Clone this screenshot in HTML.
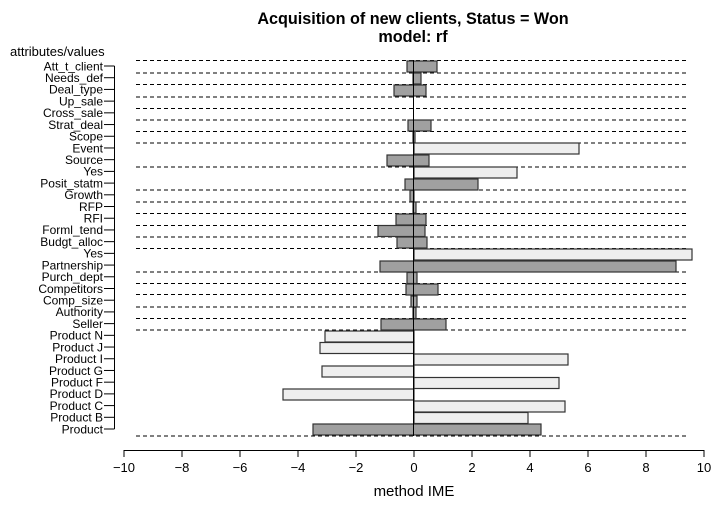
<!DOCTYPE html><html><head><style>body{margin:0;background:#fff}</style></head><body>
<svg width="720" height="503" xmlns="http://www.w3.org/2000/svg" font-family="Liberation Sans, sans-serif">
<text x="413" y="24" font-size="16.2" font-weight="bold" text-anchor="middle">Acquisition of new clients, Status = Won</text>
<text x="413" y="42" font-size="16.2" font-weight="bold" text-anchor="middle">model: rf</text>
<text x="10" y="56" font-size="13">attributes/values</text>
<g stroke="#000" stroke-width="1" stroke-dasharray="4,3">
<line x1="136" x2="688" y1="60.5" y2="60.5"/><line x1="136" x2="688" y1="73" y2="73"/><line x1="136" x2="688" y1="84.5" y2="84.5"/><line x1="136" x2="688" y1="97" y2="97"/><line x1="136" x2="688" y1="108.5" y2="108.5"/><line x1="136" x2="688" y1="120" y2="120"/><line x1="136" x2="688" y1="131.5" y2="131.5"/><line x1="136" x2="688" y1="143" y2="143"/><line x1="136" x2="688" y1="167" y2="167"/><line x1="136" x2="688" y1="190" y2="190"/><line x1="136" x2="688" y1="202" y2="202"/><line x1="136" x2="688" y1="213.5" y2="213.5"/><line x1="136" x2="688" y1="225.5" y2="225.5"/><line x1="136" x2="688" y1="237" y2="237"/><line x1="136" x2="688" y1="248.5" y2="248.5"/><line x1="136" x2="688" y1="272" y2="272"/><line x1="136" x2="688" y1="283.5" y2="283.5"/><line x1="136" x2="688" y1="294.5" y2="294.5"/><line x1="136" x2="688" y1="307" y2="307"/><line x1="136" x2="688" y1="318.5" y2="318.5"/><line x1="136" x2="688" y1="330" y2="330"/><line x1="136" x2="688" y1="436" y2="436"/>
</g>
<g stroke="#333" stroke-width="1.2">
<rect x="407" y="61" width="30" height="11" fill="#a0a0a0"/>
<rect x="413" y="73" width="8" height="11" fill="#a0a0a0"/>
<rect x="394" y="85" width="32" height="11" fill="#a0a0a0"/>
<rect x="408" y="120" width="23" height="11" fill="#a0a0a0"/>
<rect x="413" y="131.5" width="2" height="11" fill="#a0a0a0"/>
<rect x="414" y="143" width="165" height="11" fill="#eeeeee"/>
<rect x="387" y="155" width="42" height="11" fill="#a0a0a0"/>
<rect x="414" y="167" width="103" height="11" fill="#eeeeee"/>
<rect x="405" y="179" width="73" height="11" fill="#a0a0a0"/>
<rect x="410" y="190.5" width="4" height="11" fill="#a0a0a0"/>
<rect x="413" y="202" width="3" height="11" fill="#a0a0a0"/>
<rect x="396" y="214" width="30" height="11" fill="#a0a0a0"/>
<rect x="378" y="225.5" width="47" height="11" fill="#a0a0a0"/>
<rect x="397" y="237" width="30" height="11" fill="#a0a0a0"/>
<rect x="414" y="249" width="278" height="11" fill="#eeeeee"/>
<rect x="380" y="261" width="296" height="11" fill="#a0a0a0"/>
<rect x="407" y="272.5" width="10" height="11" fill="#a0a0a0"/>
<rect x="406" y="284" width="32" height="11" fill="#a0a0a0"/>
<rect x="411" y="296" width="6" height="11" fill="#a0a0a0"/>
<rect x="413" y="307.5" width="3" height="11" fill="#a0a0a0"/>
<rect x="381" y="319" width="65" height="11" fill="#a0a0a0"/>
<rect x="325" y="331" width="89" height="11" fill="#eeeeee"/>
<rect x="320" y="342.5" width="94" height="11" fill="#eeeeee"/>
<rect x="414" y="354" width="154" height="11" fill="#eeeeee"/>
<rect x="322" y="366" width="92" height="11" fill="#eeeeee"/>
<rect x="414" y="377.5" width="145" height="11" fill="#eeeeee"/>
<rect x="283" y="389" width="131" height="11" fill="#eeeeee"/>
<rect x="414" y="401" width="151" height="11" fill="#eeeeee"/>
<rect x="414" y="412.5" width="114" height="11" fill="#eeeeee"/>
<rect x="313" y="424" width="228" height="11" fill="#a0a0a0"/>
</g>
<line x1="413.5" x2="413.5" y1="60" y2="436" stroke="#000"/>
<g stroke="#000"><line x1="114.5" x2="114.5" y1="66" y2="429"/></g>
<g font-size="12" text-anchor="end" fill="#000" id="yl"></g>
<g stroke="#000"><line x1="124" x2="704" y1="450.5" y2="450.5"/></g>
<g font-size="13" text-anchor="middle" id="xl"></g>
<text x="414" y="496" font-size="15" text-anchor="middle">method IME</text>
<script>
var L=["Att_t_client","Needs_def","Deal_type","Up_sale","Cross_sale","Strat_deal","Scope","Event","Source","Yes","Posit_statm","Growth","RFP","RFI","Forml_tend","Budgt_alloc","Yes","Partnership","Purch_dept","Competitors","Comp_size","Authority","Seller","Product N","Product J","Product I","Product G","Product F","Product D","Product C","Product B","Product"];
var s=document.querySelector('svg'),ns="http://www.w3.org/2000/svg",g=document.getElementById('yl');
L.forEach(function(t,i){var y=66+i*11.71;var e=document.createElementNS(ns,'text');e.setAttribute('x',103);e.setAttribute('y',y+4.3);e.textContent=t;g.appendChild(e);
var l=document.createElementNS(ns,'line');l.setAttribute('x1',104);l.setAttribute('x2',114.5);l.setAttribute('y1',y);l.setAttribute('y2',y);l.setAttribute('stroke','#000');s.appendChild(l);});
var xg=document.getElementById('xl');
for(var v=-10;v<=10;v+=2){var x=414+v*29;var l=document.createElementNS(ns,'line');l.setAttribute('x1',x);l.setAttribute('x2',x);l.setAttribute('y1',450);l.setAttribute('y2',457);l.setAttribute('stroke','#000');s.appendChild(l);
var e=document.createElementNS(ns,'text');e.setAttribute('x',x);e.setAttribute('y',472);e.textContent=v<0?'\u2212'+(-v):v;xg.appendChild(e);}
</script>
</svg></body></html>
